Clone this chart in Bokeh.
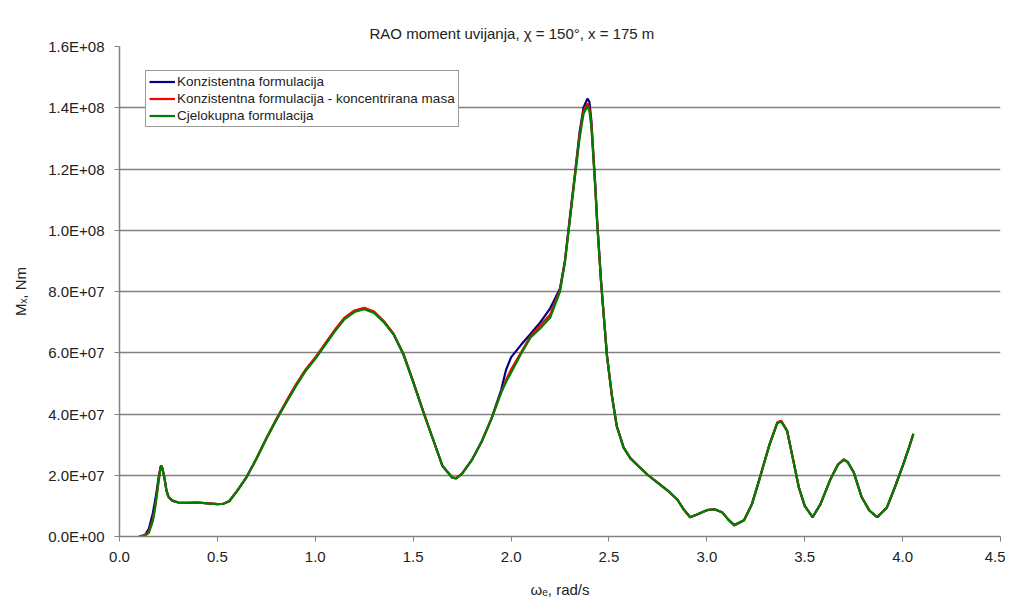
from bokeh.plotting import figure
from bokeh.models import CustomJSTickFormatter, NumeralTickFormatter, FixedTicker, Range1d
from bokeh.embed import file_html
from bokeh.resources import INLINE

omega = [0.10, 0.13, 0.15, 0.17, 0.18, 0.19, 0.20, 0.21, 0.215, 0.22, 0.23, 0.24, 0.25, 0.27,
         0.30, 0.35, 0.40, 0.45, 0.50, 0.53, 0.56, 0.60, 0.65, 0.70, 0.75, 0.80, 0.85, 0.90,
         0.95, 1.00, 1.05, 1.10, 1.15, 1.20, 1.25, 1.30, 1.35, 1.40, 1.45, 1.50, 1.55, 1.60,
         1.65, 1.70, 1.72, 1.75, 1.80, 1.85, 1.90, 1.95, 1.975, 2.00, 2.05, 2.10, 2.15, 2.20, 2.25,
         2.275, 2.30, 2.32, 2.35, 2.37, 2.39, 2.40, 2.41, 2.43, 2.44, 2.46, 2.49, 2.515, 2.54,
         2.575, 2.61, 2.65, 2.70, 2.75, 2.80, 2.85, 2.88, 2.915, 2.95, 3.00, 3.04, 3.08, 3.11,
         3.14, 3.19, 3.23, 3.27, 3.32, 3.36, 3.38, 3.41, 3.445, 3.47, 3.50, 3.54, 3.58, 3.63,
         3.67, 3.70, 3.72, 3.75, 3.79, 3.83, 3.87, 3.92, 3.96, 4.00, 4.03, 4.055]

cjelokupna = [0.0, 0.3e6, 1.2e6, 5.0e6, 8.5e6, 1.3e7, 1.8e7, 2.25e7, 2.30e7, 2.2e7, 1.9e7, 1.5e7, 1.3e7, 1.17e7,
              1.11e7, 1.10e7, 1.11e7, 1.08e7, 1.06e7, 1.07e7, 1.15e7, 1.48e7, 1.95e7, 2.55e7, 3.2e7, 3.8e7, 4.35e7, 4.9e7,
              5.4e7, 5.8e7, 6.25e7, 6.7e7, 7.1e7, 7.33e7, 7.42e7, 7.3e7, 7.0e7, 6.6e7, 5.95e7, 5.05e7, 4.1e7, 3.2e7,
              2.3e7, 1.92e7, 1.9e7, 2.05e7, 2.5e7, 3.1e7, 3.85e7, 4.7e7, 5.05e7, 5.35e7, 5.95e7, 6.5e7, 6.8e7, 7.15e7, 8.0e7,
              8.95e7, 1.03e8, 1.14e8, 1.30e8, 1.38e8, 1.405e8, 1.39e8, 1.34e8, 1.14e8, 1.02e8, 8.3e7, 5.9e7, 4.6e7, 3.6e7,
              2.9e7, 2.55e7, 2.3e7, 2.0e7, 1.75e7, 1.5e7, 1.2e7, 9.0e6, 6.3e6, 7.2e6, 8.6e6, 8.9e6, 7.8e6, 5.5e6,
              3.8e6, 5.3e6, 1.05e7, 1.9e7, 3.0e7, 3.7e7, 3.75e7, 3.45e7, 2.38e7, 1.6e7, 1.0e7, 6.3e6, 1.05e7, 1.85e7,
              2.35e7, 2.5e7, 2.42e7, 2.1e7, 1.3e7, 8.5e6, 6.3e6, 9.5e6, 1.6e7, 2.3e7, 2.85e7, 3.35e7]

konzistentna = [0.0, 0.5e6, 2.5e6, 7.5e6, 1.1e7, 1.5e7, 1.95e7, 2.28e7, 2.31e7, 2.2e7, 1.9e7, 1.5e7, 1.3e7, 1.17e7,
                1.11e7, 1.10e7, 1.11e7, 1.08e7, 1.06e7, 1.07e7, 1.15e7, 1.48e7, 1.95e7, 2.55e7, 3.2e7, 3.8e7, 4.37e7, 4.92e7,
                5.42e7, 5.82e7, 6.28e7, 6.73e7, 7.13e7, 7.36e7, 7.45e7, 7.33e7, 7.02e7, 6.6e7, 5.95e7, 5.05e7, 4.1e7, 3.2e7,
                2.3e7, 1.92e7, 1.9e7, 2.05e7, 2.5e7, 3.1e7, 3.85e7, 4.8e7, 5.45e7, 5.85e7, 6.25e7, 6.62e7, 7.0e7, 7.45e7, 8.1e7,
                9.0e7, 1.04e8, 1.15e8, 1.32e8, 1.40e8, 1.43e8, 1.42e8, 1.36e8, 1.15e8, 1.03e8, 8.3e7, 5.9e7, 4.6e7, 3.6e7,
                2.9e7, 2.55e7, 2.3e7, 2.0e7, 1.75e7, 1.5e7, 1.2e7, 9.0e6, 6.3e6, 7.2e6, 8.6e6, 8.9e6, 7.8e6, 5.5e6,
                3.6e6, 5.3e6, 1.05e7, 1.9e7, 3.0e7, 3.72e7, 3.77e7, 3.45e7, 2.38e7, 1.6e7, 1.0e7, 6.3e6, 1.05e7, 1.85e7,
                2.35e7, 2.52e7, 2.43e7, 2.1e7, 1.3e7, 8.5e6, 6.3e6, 9.5e6, 1.6e7, 2.3e7, 2.85e7, 3.35e7]

koncentrirana = [0.0, 0.4e6, 1.6e6, 5.5e6, 9.0e6, 1.35e7, 1.85e7, 2.27e7, 2.31e7, 2.2e7, 1.9e7, 1.5e7, 1.3e7, 1.17e7,
                 1.11e7, 1.10e7, 1.11e7, 1.08e7, 1.06e7, 1.07e7, 1.15e7, 1.48e7, 1.95e7, 2.55e7, 3.2e7, 3.82e7, 4.4e7, 4.95e7,
                 5.45e7, 5.85e7, 6.3e7, 6.75e7, 7.15e7, 7.38e7, 7.47e7, 7.35e7, 7.03e7, 6.62e7, 5.97e7, 5.07e7, 4.12e7, 3.2e7,
                 2.3e7, 1.93e7, 1.91e7, 2.05e7, 2.5e7, 3.1e7, 3.85e7, 4.72e7, 5.12e7, 5.45e7, 6.0e7, 6.55e7, 6.9e7, 7.25e7, 8.05e7,
                 8.97e7, 1.035e8, 1.145e8, 1.31e8, 1.39e8, 1.415e8, 1.40e8, 1.35e8, 1.145e8, 1.025e8, 8.3e7, 5.9e7, 4.6e7, 3.6e7,
                 2.9e7, 2.55e7, 2.3e7, 2.0e7, 1.75e7, 1.5e7, 1.2e7, 9.0e6, 6.3e6, 7.2e6, 8.6e6, 8.9e6, 7.8e6, 5.5e6,
                 3.7e6, 5.3e6, 1.05e7, 1.9e7, 3.0e7, 3.72e7, 3.78e7, 3.45e7, 2.38e7, 1.6e7, 1.0e7, 6.3e6, 1.05e7, 1.85e7,
                 2.35e7, 2.52e7, 2.43e7, 2.1e7, 1.3e7, 8.5e6, 6.3e6, 9.5e6, 1.6e7, 2.3e7, 2.85e7, 3.35e7]

x_ticks = [0.0, 0.5, 1.0, 1.5, 2.0, 2.5, 3.0, 3.5, 4.0, 4.5]
y_ticks = [0, 2e7, 4e7, 6e7, 8e7, 1e8, 1.2e8, 1.4e8, 1.6e8]

FONT = "Liberation Sans"

p = figure(width=1005, height=600, output_backend="svg", toolbar_location=None,
           x_range=Range1d(0, 4.5), y_range=Range1d(0, 1.6e8),
           min_border_left=119, min_border_right=5, min_border_top=46, min_border_bottom=60,
           title="RAO moment uvijanja, \u03c7 = 150\u00b0, x = 175 m")

p.title.text_font = FONT
p.title.text_font_size = "15px"
p.title.text_font_style = "normal"
p.title.text_color = "#222222"
p.title.align = "left"
p.title.offset = 250

p.line(omega, konzistentna, color="#000080", line_width=2.2, legend_label="Konzistentna formulacija")
p.line(omega, koncentrirana, color="#ff0000", line_width=2.2,
       legend_label="Konzistentna formulacija - koncentrirana masa")
p.line(omega, cjelokupna, color="#008000", line_width=2.2, legend_label="Cjelokupna formulacija")

p.outline_line_color = None
p.background_fill_color = "white"
p.border_fill_color = "white"

p.xgrid.grid_line_color = None
p.ygrid.grid_line_color = "#808080"
p.ygrid.grid_line_width = 1.5

p.xaxis.ticker = FixedTicker(ticks=x_ticks)
p.yaxis.ticker = FixedTicker(ticks=y_ticks)
p.xaxis.formatter = NumeralTickFormatter(format="0.0")
p.yaxis.formatter = CustomJSTickFormatter(code="""
const s = tick.toExponential(1).split("e");
const ex = parseInt(s[1]);
const a = Math.abs(ex);
return s[0] + "E" + (ex < 0 ? "-" : "+") + (a < 10 ? "0" : "") + a;
""")

for ax in (p.xaxis[0], p.yaxis[0]):
    ax.axis_line_color = "#808080"
    ax.axis_line_width = 1.5
    ax.major_tick_line_color = "#808080"
    ax.major_tick_out = 5
    ax.major_tick_in = 0
    ax.minor_tick_line_color = None
    ax.major_label_text_font = FONT
    ax.major_label_text_font_size = "15px"
    ax.major_label_text_color = "#222222"
    ax.axis_label_text_font = FONT
    ax.axis_label_text_font_size = "15px"
    ax.axis_label_text_font_style = "normal"
    ax.axis_label_text_color = "#222222"

p.xaxis.axis_label = "\u03c9\u2091, rad/s"
p.yaxis.axis_label = "M\u2093, Nm"
p.xaxis.major_label_standoff = 10
p.yaxis.major_label_standoff = 10
p.xaxis.axis_label_standoff = 16
p.yaxis.axis_label_standoff = 16

lg = p.legend[0]
lg.location = (26, 409)
lg.border_line_color = "#333333"
lg.border_line_width = 1
lg.background_fill_color = "white"
lg.background_fill_alpha = 1.0
lg.label_text_font = FONT
lg.label_text_font_size = "13.5px"
lg.label_text_color = "#222222"
lg.glyph_width = 26
lg.glyph_height = 15
lg.label_height = 15
lg.label_standoff = 2
lg.padding = 3
lg.spacing = 2
lg.margin = 0

open("out.html", "w").write(file_html(p, INLINE))
